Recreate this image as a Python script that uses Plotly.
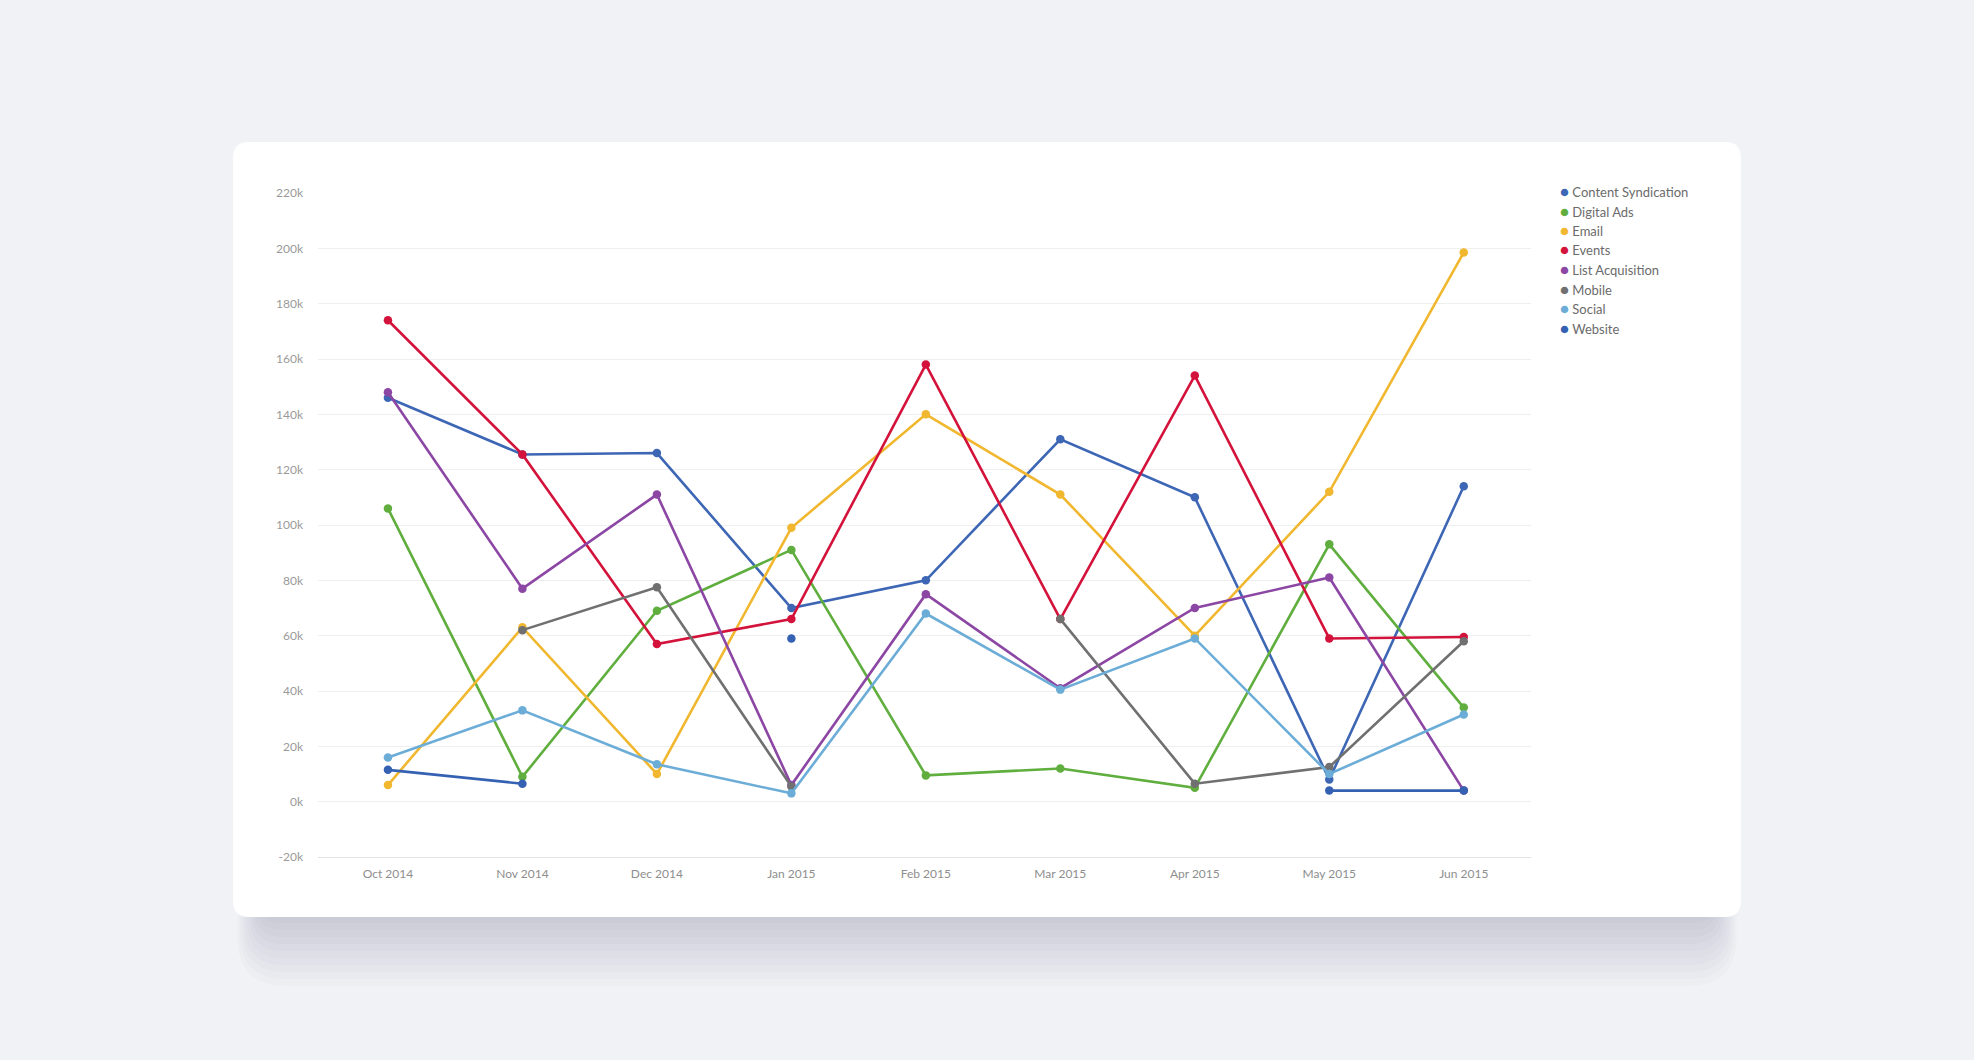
import plotly.graph_objects as go

months = ["Oct 2014", "Nov 2014", "Dec 2014", "Jan 2015", "Feb 2015",
          "Mar 2015", "Apr 2015", "May 2015", "Jun 2015"]

content_syndication = [146000, 125500, 126000, 70000, 80000, 131000, 110000, 8000, 114000]
digital_ads = [106000, 9000, 69000, 91000, 9500, 12000, 5000, 93000, 34000]
email = [6000, 63000, 10000, 99000, 140000, 111000, 60000, 112000, 198500]
events = [174000, 125500, 57000, 66000, 158000, 66000, 154000, 59000, 59500]
list_acquisition = [148000, 77000, 111000, 6000, 75000, 41000, 70000, 81000, 4000]
mobile = [None, 62000, 77500, 5500, None, 66000, 6500, 12500, 58000]
social = [16000, 33000, 13500, 3000, 68000, 40500, 59000, 10000, 31500]
website = [11500, 6500, None, 59000, None, None, None, 4000, 4000]

series_names = ["Content Syndication", "Digital Ads", "Email", "Events",
                "List Acquisition", "Mobile", "Social", "Website"]
series_values = [content_syndication, digital_ads, email, events,
                 list_acquisition, mobile, social, website]
series_colors = ["#3d66b5", "#5fae3e", "#f0b72f", "#d3133b",
                 "#8c46a4", "#707070", "#6cadd8", "#3561b3"]

y_tickvals = [-20000, 0, 20000, 40000, 60000, 80000, 100000, 120000,
              140000, 160000, 180000, 200000, 220000]
y_ticktext = ["-20k", "0k", "20k", "40k", "60k", "80k", "100k", "120k",
              "140k", "160k", "180k", "200k", "220k"]

W, H = 1974, 1060
L, R, T, B = 318, 1531, 193, 857  # plot area in pixels


def px_x(x):
    return (x - L) / (R - L)


def px_y(y):
    return (B - y) / (B - T)


def rounded_rect(x0, y0, x1, y1, r):
    rx = r / (R - L)
    ry = r / (B - T)
    a, b, c, d = px_x(x0), px_y(y1), px_x(x1), px_y(y0)
    return (f"M {a+rx},{d} L {c-rx},{d} Q {c},{d} {c},{d-ry} "
            f"L {c},{b+ry} Q {c},{b} {c-rx},{b} "
            f"L {a+rx},{b} Q {a},{b} {a},{b+ry} "
            f"L {a},{d-ry} Q {a},{d} {a+rx},{d} Z")


fig = go.Figure()

for name, vals, col in zip(series_names, series_values, series_colors):
    fig.add_trace(go.Scatter(
        x=months, y=vals, name=name, mode="lines+markers",
        line=dict(color=col, width=2.6),
        marker=dict(color=col, size=8.5),
        connectgaps=False, showlegend=False,
    ))

shapes = []
# soft shadow, mostly below the card
for i in range(10):
    g = 6 + i * 7
    inset = 26 - i * 2.4
    shapes.append(dict(type="path", xref="paper", yref="paper",
                       path=rounded_rect(233 + inset, 600, 1741 - inset, 917 + g, 22 + i * 3),
                       fillcolor="rgba(80,80,120,0.022)", line=dict(width=0), layer="below"))
# card
shapes.append(dict(type="path", xref="paper", yref="paper",
                   path=rounded_rect(233, 142, 1741, 917, 16),
                   fillcolor="#ffffff", line=dict(width=0), layer="below"))

annotations = []
for i, (name, col) in enumerate(zip(series_names, series_colors)):
    yy = 191 + 19.5 * i
    annotations.append(dict(
        xref="paper", yref="paper", x=px_x(1558), y=px_y(yy),
        xanchor="left", yanchor="middle", showarrow=False,
        text=f'<span style="color:{col};font-size:15px">●</span> {name}',
        font=dict(family="Lato, Noto Sans, sans-serif", size=13, color="#6b6b6b"),
    ))

fig.update_layout(
    width=W, height=H,
    margin=dict(l=L, r=W - R, t=T, b=H - B, autoexpand=False),
    paper_bgcolor="#f1f2f5",
    plot_bgcolor="rgba(0,0,0,0)",
    shapes=shapes,
    annotations=annotations,
    showlegend=False,
    font=dict(family="Lato, Noto Sans, sans-serif", color="#9a9a9a", size=12),
    xaxis=dict(
        type="category", range=[-0.52, 8.5], showgrid=False, zeroline=False,
        showline=True, linecolor="#e2e2e2", linewidth=1,
        ticks="", tickfont=dict(size=12, color="#8e8e8e"),
        ticklabelstandoff=6, fixedrange=True,
    ),
    yaxis=dict(
        range=[-20000, 220000], tickvals=y_tickvals, ticktext=y_ticktext,
        showgrid=True, gridcolor="#efefef", gridwidth=1, zeroline=False,
        showline=False, ticks="", tickfont=dict(size=12, color="#9a9a9a"),
        ticklabelstandoff=14,
    ),
)

fig.write_html("out.html", config={"displayModeBar": False},
               post_script="document.body.style.margin='0';document.body.style.background='#f1f2f5';")
